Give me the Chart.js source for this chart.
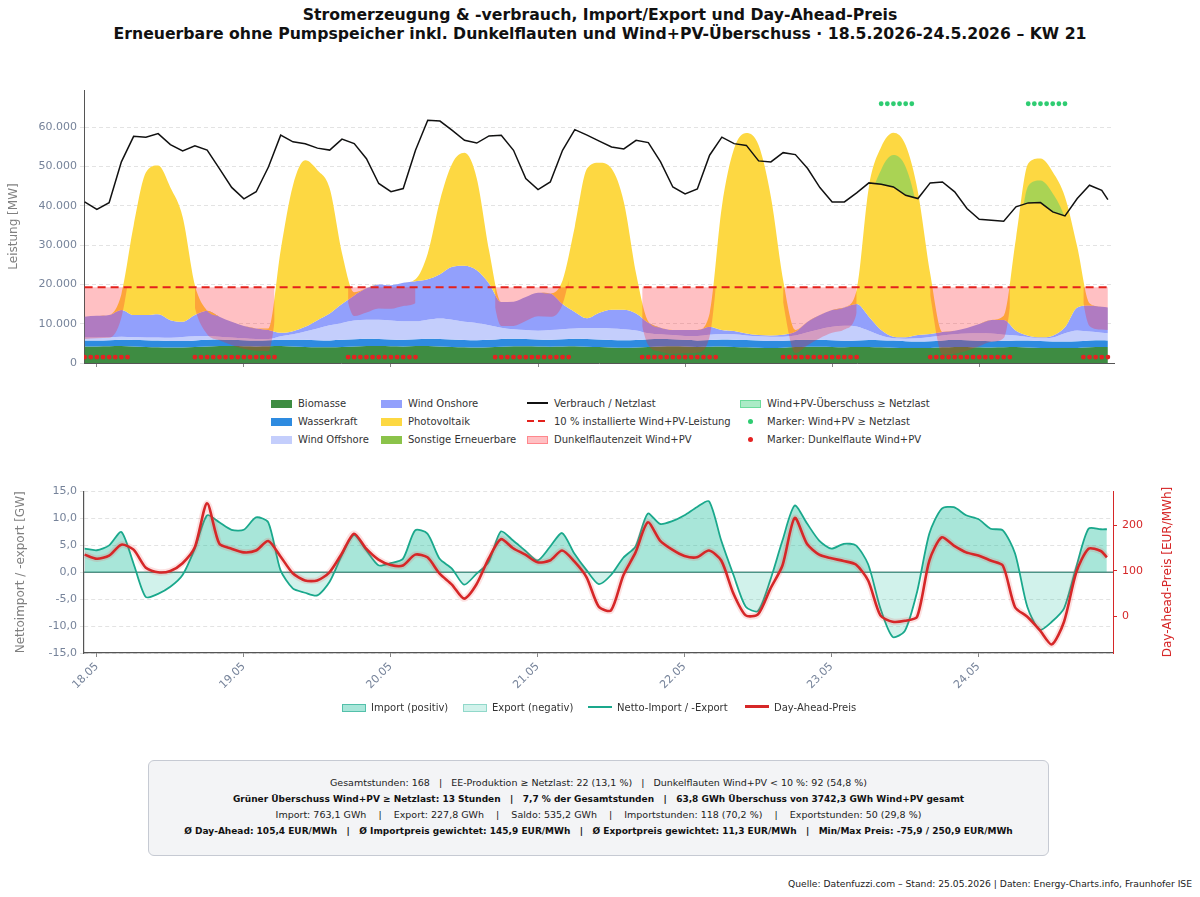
<!DOCTYPE html>
<html lang="de">
<head>
<meta charset="utf-8">
<title>Stromerzeugung KW 21</title>
<script src="https://cdn.jsdelivr.net/npm/chart.js@4.4.1/dist/chart.umd.min.js"></script>
<style>
  html, body { margin: 0; padding: 0; background: #fff; }
  body { width: 1200px; height: 897px; position: relative; overflow: hidden; font-family: "DejaVu Sans", sans-serif; color: #222; }
  .title { position: absolute; left: 0; width: 1200px; text-align: center; font-weight: bold; font-size: 15.7px; color: #111; line-height: 20px; }
  #wrap1 { position: absolute; left: 0; top: 80px; width: 1200px; height: 300px; }
  #wrap2 { position: absolute; left: 0; top: 480px; width: 1200px; height: 230px; }
  .lg { position: absolute; font-size: 10px; color: #333; white-space: nowrap; line-height: 12px; }
  .lg i { display: inline-block; width: 21px; height: 8px; margin-right: 6px; vertical-align: -1px; box-sizing: border-box; }
  .lg i.line { height: 2px; vertical-align: 3px; }
  .lg i.dash { height: 2px; vertical-align: 3px; background: repeating-linear-gradient(90deg, #e3211c 0 7px, transparent 7px 11px); }
  .lg i.dot { background: none; position: relative; }
  .lg i.dot::after { content: ""; position: absolute; left: 8px; top: 1px; width: 5px; height: 5px; border-radius: 50%; background: var(--c); }
  .lg2 i { width: 24px; margin-right: 5px; }
  #preisTitel { position: absolute; left: 1067px; top: 565px; width: 200px; height: 14px; line-height: 14px; text-align: center;
                font-size: 12px; color: #d62728; transform: rotate(-90deg); white-space: nowrap; }
  #stats { position: absolute; left: 148px; top: 760px; width: 901px; height: 96px; box-sizing: border-box;
           background: #f3f4f6; border: 1px solid #c6cad3; border-radius: 6px; }
  #stats div { position: absolute; left: 0; width: 100%; text-align: center; font-size: 9.5px; color: #222; white-space: pre; line-height: 14px; }
  #stats div.b { font-weight: bold; color: #111; font-size: 9px; }
  #foot { position: absolute; right: 8px; top: 878px; font-size: 9.2px; color: #222; white-space: nowrap; }
</style>
</head>
<body>
<div class="title" style="top:5px">Stromerzeugung &amp; -verbrauch, Import/Export und Day-Ahead-Preis</div>
<div class="title" style="top:24px">Erneuerbare ohne Pumpspeicher inkl. Dunkelflauten und Wind+PV-Überschuss · 18.5.2026-24.5.2026 – KW 21</div>

<div id="wrap1"><canvas id="c1" width="1200" height="300"></canvas></div>

<!-- Legende oben -->
<div class="lg" style="left:271px;top:398px"><i style="background:rgb(62,140,66)"></i>Biomasse</div>
<div class="lg" style="left:271px;top:416px"><i style="background:rgb(46,139,224)"></i>Wasserkraft</div>
<div class="lg" style="left:271px;top:434px"><i style="background:rgb(196,206,252)"></i>Wind Offshore</div>
<div class="lg" style="left:381px;top:398px"><i style="background:rgb(146,160,252)"></i>Wind Onshore</div>
<div class="lg" style="left:381px;top:416px"><i style="background:rgb(253,216,66)"></i>Photovoltaik</div>
<div class="lg" style="left:381px;top:434px"><i style="background:rgb(139,195,74)"></i>Sonstige Erneuerbare</div>
<div class="lg" style="left:527px;top:398px"><i class="line" style="background:#111"></i>Verbrauch / Netzlast</div>
<div class="lg" style="left:527px;top:416px"><i class="dash"></i>10 % installierte Wind+PV-Leistung</div>
<div class="lg" style="left:527px;top:434px"><i style="background:rgba(255,30,40,0.28);border:1px solid rgba(255,30,40,0.35)"></i>Dunkelflautenzeit Wind+PV</div>
<div class="lg" style="left:740px;top:398px"><i style="background:rgba(46,204,113,0.4);border:1px solid rgba(46,204,113,0.5)"></i>Wind+PV-Überschuss ≥ Netzlast</div>
<div class="lg" style="left:740px;top:416px"><i class="dot" style="--c:#2ecc71"></i>Marker: Wind+PV ≥ Netzlast</div>
<div class="lg" style="left:740px;top:434px"><i class="dot" style="--c:#e52222"></i>Marker: Dunkelflaute Wind+PV</div>

<div id="wrap2"><canvas id="c2" width="1200" height="230"></canvas></div>
<div id="preisTitel">Day-Ahead-Preis [EUR/MWh]</div>

<!-- Legende unten -->
<div class="lg lg2" style="left:342px;top:702px"><i style="background:rgba(26,188,156,0.38);border:1px solid rgba(26,168,140,0.6)"></i>Import (positiv)</div>
<div class="lg lg2" style="left:463px;top:702px"><i style="background:rgba(26,188,156,0.2);border:1px solid rgba(26,168,140,0.35)"></i>Export (negativ)</div>
<div class="lg lg2" style="left:588px;top:702px"><i class="line" style="background:rgb(26,168,140)"></i>Netto-Import / -Export</div>
<div class="lg lg2" style="left:745px;top:702px"><i class="line" style="background:rgb(214,39,40);height:3px"></i>Day-Ahead-Preis</div>

<div id="stats">
  <div style="top:15px">Gesamtstunden: 168   |   EE-Produktion ≥ Netzlast: 22 (13,1 %)   |   Dunkelflauten Wind+PV &lt; 10 %: 92 (54,8 %)</div>
  <div class="b" style="top:31px">Grüner Überschuss Wind+PV ≥ Netzlast: 13 Stunden   |   7,7 % der Gesamtstunden   |   63,8 GWh Überschuss von 3742,3 GWh Wind+PV gesamt</div>
  <div style="top:47px">Import: 763,1 GWh    |    Export: 227,8 GWh    |    Saldo: 535,2 GWh    |    Importstunden: 118 (70,2 %)    |    Exportstunden: 50 (29,8 %)</div>
  <div class="b" style="top:63px">Ø Day-Ahead: 105,4 EUR/MWh   |   Ø Importpreis gewichtet: 145,9 EUR/MWh   |   Ø Exportpreis gewichtet: 11,3 EUR/MWh   |   Min/Max Preis: -75,9 / 250,9 EUR/MWh</div>
</div>

<div id="foot">Quelle: Datenfuzzi.com – Stand: 25.05.2026 | Daten: Energy-Charts.info, Fraunhofer ISE</div>

<script>
const hours = [-2, 0, 2, 4, 6, 8, 10, 12, 14, 16, 18, 20,
  22, 24, 26, 28, 30, 32, 34, 36, 38, 40, 42, 44,
  46, 48, 50, 52, 54, 56, 58, 60, 62, 64, 66, 68,
  70, 72, 74, 76, 78, 80, 82, 84, 86, 88, 90, 92,
  94, 96, 98, 100, 102, 104, 106, 108, 110, 112, 114, 116,
  118, 120, 122, 124, 126, 128, 130, 132, 134, 136, 138, 140,
  142, 144, 146, 148, 150, 152, 154, 156, 158, 160, 162, 164,
  165];

const dayTicks = [0, 24, 48, 72, 96, 120, 144];
const dayLabels = ['18.05', '19.05', '20.05', '21.05', '22.05', '23.05', '24.05'];
const leistungTicks = [0, 10000, 20000, 30000, 40000, 50000, 60000];
const importTicks = [-15, -10, -5, 0, 5, 10, 15];
const preisTicks = [0, 100, 200];

// Erzeugung in MW
const biomasse = [4200, 4200, 4250, 4300, 4200, 4100, 4000, 3950, 3950, 4050, 4200, 4300,
  4300, 4250, 4200, 4250, 4300, 4200, 4100, 4000, 4000, 4100, 4200, 4300,
  4300, 4250, 4200, 4300, 4300, 4200, 4100, 4000, 3950, 4000, 4150, 4250,
  4250, 4200, 4150, 4200, 4250, 4150, 4050, 3950, 3900, 3950, 4100, 4200,
  4250, 4200, 4100, 4150, 4200, 4100, 4000, 3900, 3850, 3900, 4050, 4150,
  4150, 4100, 4000, 4050, 4100, 4000, 3900, 3800, 3800, 3850, 4000, 4100,
  4100, 4000, 3950, 4000, 4050, 3950, 3850, 3800, 3800, 3850, 4000, 4050,
  4050];
const wasserkraft = [1500, 1500, 1550, 1600, 1650, 1700, 1700, 1650, 1650, 1700, 1750, 1700,
  1600, 1550, 1500, 1550, 1650, 1750, 1800, 1800, 1750, 1800, 1850, 1850,
  1800, 1750, 1700, 1750, 1850, 1900, 1900, 1850, 1850, 1900, 1950, 1900,
  1850, 1800, 1800, 1850, 1900, 1950, 1950, 1900, 1900, 1900, 1950, 1900,
  1800, 1700, 1650, 1700, 1800, 1850, 1850, 1800, 1750, 1750, 1800, 1800,
  1750, 1700, 1650, 1700, 1750, 1800, 1800, 1750, 1700, 1700, 1750, 1750,
  1700, 1650, 1600, 1650, 1700, 1750, 1750, 1700, 1700, 1700, 1750, 1750,
  1700];
const windOffshore = [800, 800, 800, 800, 750, 700, 800, 800, 1000, 1050, 950, 700,
  600, 500, 400, 300, 850, 1350, 2100, 3000, 3850, 4300, 4750, 4850,
  4900, 4800, 4700, 4550, 4850, 5200, 5000, 4650, 4400, 3700, 2900, 2450,
  2300, 2200, 2450, 2550, 2650, 2800, 2900, 2950, 2800, 2450, 1550, 1200,
  1050, 1000, 1150, 1350, 1400, 1350, 1150, 1100, 1100, 1050, 1150, 1850,
  2700, 3400, 3850, 3550, 2350, 1200, 600, 650, 800, 1050, 1250, 1450,
  1700, 1950, 1950, 1550, 1250, 900, 700, 1000, 2100, 2750, 2250, 1900,
  1850];
const windOnshore = [5300, 5500, 5600, 6800, 5600, 5700, 5900, 4500, 3900, 5400, 6400, 5100,
  4000, 3100, 2700, 2300, 900, 800, 1200, 2100, 3000, 4800, 6400, 8000,
  9000, 9000, 9800, 10200, 10300, 11300, 13500, 14250, 13400, 10650, 6500, 7000,
  8400, 9700, 9300, 6400, 4200, 2500, 3900, 4760, 4960, 4330, 2650, 1680,
  1290, 1490, 1490, 2040, 990, 840, 540, 320, 330, 500, 960, 2700,
  3600, 4270, 4650, 5700, 3600, 1390, 400, 330, 820, 770, 880, 920,
  1400, 2300, 3430, 3730, 1220, 350, 230, 450, 1470, 5850, 6660, 6620,
  6550];
const photovoltaik = [0, 0, 0, 4000, 22800, 36300, 37900, 33800, 26700, 7600, 0, 0,
  0, 0, 0, 400, 21000, 37100, 42400, 38200, 31800, 13000, 800, 0,
  0, 0, 0, 500, 6600, 18800, 26300, 28750, 23400, 8450, 0, 0,
  0, 0, 0, 6000, 21700, 38100, 38200, 35940, 27440, 10170, 300, 0,
  0, 0, 0, 3360, 31360, 46440, 51020, 48300, 35270, 13900, 430, 0,
  0, 0, 0, 3560, 33030, 46610, 51940, 48890, 36440, 15430, 0, 0,
  0, 0, 0, 1070, 23480, 43810, 45500, 41690, 33220, 15430, 540, 0,
  0];
const netzlast = [41000, 39100, 40800, 51200, 57700, 57500, 58400, 55600, 54000, 55300, 54200, 49500,
  44700, 41800, 43600, 49900, 58000, 56300, 55800, 54700, 54200, 57000, 55850, 52000,
  45700, 43600, 44400, 54150, 61800, 61600, 59200, 56700, 56000, 57800, 58000, 54150,
  46950, 44150, 46100, 54150, 59400, 58000, 56500, 55000, 54500, 56700, 56100, 51200,
  44800, 43050, 44300, 52900, 57500, 55850, 55400, 51450, 51200, 53550, 53050, 49500,
  44650, 41000, 41000, 43300, 45850, 45500, 44830, 42700, 41860, 45850, 46100, 43560,
  39320, 36600, 36360, 36100, 39750, 40760, 40850, 38470, 37460, 41860, 45250, 43980,
  41600];

// Import/Export in GW, Preis in EUR/MWh
const nettoImport = [4.4, 4.1, 5.0, 7.5, 1.6, -4.6, -4.0, -2.7, -0.5, 4.4, 10.6, 9.3,
  7.9, 7.9, 10.2, 9.3, 0.4, -3.0, -3.8, -4.3, -1.8, 3.1, 6.9, 4.1,
  1.3, 1.7, 2.5, 7.8, 7.2, 2.5, 0.7, -2.3, -0.3, 1.9, 7.6, 5.9,
  4.0, 2.2, 4.7, 7.3, 3.5, 0.4, -2.2, -0.5, 2.7, 4.8, 10.9, 9.0,
  9.5, 10.6, 12.1, 13.2, 5.9, -0.5, -6.4, -7.2, -1.5, 5.9, 12.4, 9.1,
  5.9, 4.4, 5.3, 5.0, 1.5, -6.7, -12.0, -10.9, -3.6, 7.2, 11.8, 12.1,
  10.6, 9.9, 8.1, 7.8, 3.5, -6.4, -10.7, -9.2, -6.7, 1.0, 8.1, 8.0,
  8.0];
const preis = [136, 127, 134, 158, 147, 107, 97, 100, 117, 152, 249, 160,
  149, 141, 145, 166, 132, 95, 79, 79, 97, 138, 182, 149,
  125, 113, 112, 136, 130, 94, 70, 39, 70, 127, 170, 150,
  136, 119, 123, 145, 121, 86, 21, 13, 90, 141, 207, 167,
  147, 133, 130, 145, 123, 50, 2, 4, 60, 112, 217, 160,
  136, 128, 122, 114, 79, 2, -12, -10, -1, 123, 174, 156,
  141, 134, 123, 112, 20, -1, -30, -62, -12, 97, 149, 144,
  130];

// 10 % der installierten Wind+PV-Leistung (MW)
const schwelle = 19300;
// Dunkelflauten- und Überschussstunden [von, bis]
const flauteStunden = [[-2, 5], [16, 29], [41, 52], [65, 77], [89, 101], [112, 124], [136, 149], [161, 165]];
const ueberschussStunden = [[128, 133], [152, 158]];

Chart.defaults.font.family = '"DejaVu Sans", sans-serif';
Chart.defaults.color = '#76839a';

const xy = arr => hours.map((h, i) => ({ x: h, y: arr[i] }));
const setTicks = list => s => { s.ticks = list.map(v => ({ value: v })); };

// kumulierte Stapel
const s1 = biomasse.slice();
const s2 = s1.map((v, i) => v + wasserkraft[i]);
const s3 = s2.map((v, i) => v + windOffshore[i]);
const s4 = s3.map((v, i) => v + windOnshore[i]);
const s5 = s4.map((v, i) => v + photovoltaik[i]);
const windPV = windOffshore.map((v, i) => v + windOnshore[i] + photovoltaik[i]);

// Dunkelflaute-Flächen (Schwelle) und Marker
const flauteFlaeche = [];
flauteStunden.forEach(([a, b], k) => {
    if (k > 0) flauteFlaeche.push({ x: a - 0.5, y: null });
    flauteFlaeche.push({ x: a, y: schwelle }, { x: b, y: schwelle });
});
const rotMarker = [];
flauteStunden.forEach(([a, b]) => { for (let h = a; h <= b; h++) rotMarker.push({ x: h, y: 1500 }); });
const gruenMarker = [];
ueberschussStunden.forEach(([a, b]) => { for (let h = a; h <= b; h++) gruenMarker.push({ x: h, y: 66000 }); });

const tickColor = '#76839a';
const area = (label, data, color, fill, order) => ({
    label, data: xy(data), backgroundColor: color, borderColor: color, borderWidth: 0,
    fill, order, pointRadius: 0, cubicInterpolationMode: 'monotone'
});

new Chart(document.getElementById('c1'), {
    type: 'line',
    data: {
        datasets: [
            area('Biomasse', s1, 'rgb(62,140,66)', 'origin', 20),
            area('Wasserkraft', s2, 'rgb(46,139,224)', '-1', 19),
            area('Wind Offshore', s3, 'rgb(196,206,252)', '-1', 18),
            area('Wind Onshore', s4, 'rgb(146,160,252)', '-1', 17),
            area('Photovoltaik', s5, 'rgb(253,216,66)', '-1', 16),
            {   // Wind+PV gesamt (unsichtbar), Überschuss gegenüber Netzlast
                label: 'Wind+PV', data: xy(windPV), borderColor: 'transparent', borderWidth: 0,
                pointRadius: 0, order: 15, cubicInterpolationMode: 'monotone',
                fill: { target: 6, above: 'rgba(46,204,113,0.4)', below: 'transparent' }
            },
            {
                label: 'Verbrauch / Netzlast', data: xy(netzlast), borderColor: '#111', borderWidth: 1.5,
                pointRadius: 0, fill: false, order: 12, tension: 0
            },
            {
                label: 'Dunkelflautenzeit', data: flauteFlaeche, borderColor: 'transparent', borderWidth: 0,
                pointRadius: 0, order: 14, spanGaps: false,
                fill: { target: 5, above: 'rgba(255,30,40,0.28)', below: 'rgba(255,30,40,0.28)' }
            },
            {
                label: '10 %', data: [{ x: hours[0], y: schwelle }, { x: hours[hours.length - 1], y: schwelle }],
                borderColor: '#e3211c', borderWidth: 2, borderDash: [8, 5], pointRadius: 0, fill: false, order: 13
            },
            {
                label: 'Marker Überschuss', data: gruenMarker, showLine: false, pointRadius: 2.4,
                pointBackgroundColor: '#2ecc71', pointBorderWidth: 0, order: 11
            },
            {
                label: 'Marker Dunkelflaute', data: rotMarker, showLine: false, pointRadius: 2.4,
                pointBackgroundColor: '#e52222', pointBorderWidth: 0, order: 10
            }
        ]
    },
    options: {
        responsive: false,
        animation: false,
        layout: { padding: { top: 10, right: 86, left: 0, bottom: 0 } },
        plugins: { legend: { display: false }, tooltip: { enabled: false } },
        elements: { point: { radius: 0 } },
        scales: {
            x: {
                type: 'linear', min: -2.1, max: 166,
                afterBuildTicks: setTicks(dayTicks),
                ticks: { display: false },
                grid: { drawOnChartArea: false, tickLength: 4, color: '#888' },
                border: { color: '#555', width: 1 },
                afterFit: s => { s.height = 17; }
            },
            y: {
                min: 0, max: 69500,
                afterBuildTicks: setTicks(leistungTicks),
                ticks: { color: tickColor, font: { size: 11 }, callback: v => v.toLocaleString('de-DE') },
                grid: { color: '#e3e3e3', tickLength: 4 },
                border: { color: '#555', dash: [4, 3] },
                title: { display: true, text: 'Leistung [MW]', color: '#808080', font: { size: 12 }, padding: { top: 7, bottom: 4 } },
                afterFit: s => { s.width = 84; }
            }
        }
    }
});

// Nulllinie im unteren Diagramm
const nullLinie = {
    id: 'nullLinie',
    beforeDatasetsDraw(chart) {
        const { ctx, chartArea, scales } = chart;
        const y = scales.y.getPixelForValue(0);
        ctx.save();
        ctx.strokeStyle = 'rgb(90,140,132)';
        ctx.lineWidth = 1.5;
        ctx.beginPath();
        ctx.moveTo(chartArea.left, y);
        ctx.lineTo(chartArea.right, y);
        ctx.stroke();
        ctx.restore();
    }
};

new Chart(document.getElementById('c2'), {
    type: 'line',
    data: {
        datasets: [
            {
                label: 'Netto-Import / -Export', data: xy(nettoImport), yAxisID: 'y',
                borderColor: 'rgb(26,168,140)', borderWidth: 1.8, pointRadius: 0, tension: 0.25, order: 3,
                fill: { target: 'origin', above: 'rgba(26,188,156,0.38)', below: 'rgba(26,188,156,0.2)' }
            },
            {
                label: 'Preis Schein', data: xy(preis), yAxisID: 'y2',
                borderColor: 'rgba(235,70,70,0.16)', borderWidth: 6.5, pointRadius: 0, tension: 0.25, fill: false, order: 2
            },
            {
                label: 'Day-Ahead-Preis', data: xy(preis), yAxisID: 'y2',
                borderColor: 'rgb(214,39,40)', borderWidth: 2.6, pointRadius: 0, tension: 0.25, fill: false, order: 1
            }
        ]
    },
    options: {
        responsive: false,
        animation: false,
        layout: { padding: { top: 11, right: 0, left: 0, bottom: 0 } },
        plugins: { legend: { display: false }, tooltip: { enabled: false } },
        scales: {
            x: {
                type: 'linear', min: -2.1, max: 166,
                afterBuildTicks: setTicks(dayTicks),
                ticks: { color: tickColor, font: { size: 11 }, minRotation: 45, maxRotation: 45,
                         callback: v => dayLabels[dayTicks.indexOf(v)] },
                grid: { drawOnChartArea: false, tickLength: 4, color: '#888' },
                border: { color: '#555', width: 1.2 },
                afterFit: s => { s.height = 57; }
            },
            y: {
                min: -15, max: 15,
                afterBuildTicks: setTicks(importTicks),
                ticks: { color: tickColor, font: { size: 11 }, callback: v => v.toFixed(1).replace('.', ',') },
                grid: { color: '#e3e3e3', tickLength: 4 },
                border: { color: '#555', dash: [4, 3], width: 1.2 },
                title: { display: true, text: 'Nettoimport / -export [GW]', color: '#808080', font: { size: 12 }, padding: { top: 14, bottom: 4 } },
                afterFit: s => { s.width = 84; }
            },
            y2: {
                position: 'right', min: -81, max: 275,
                afterBuildTicks: setTicks(preisTicks),
                ticks: { color: '#d62728', font: { size: 11 }, padding: 5 },
                grid: { drawOnChartArea: false, tickLength: 4, color: '#d62728' },
                border: { color: '#d62728' },
                afterFit: s => { s.width = 87; }
            }
        }
    },
    plugins: [nullLinie]
});
</script>
</body>
</html>
